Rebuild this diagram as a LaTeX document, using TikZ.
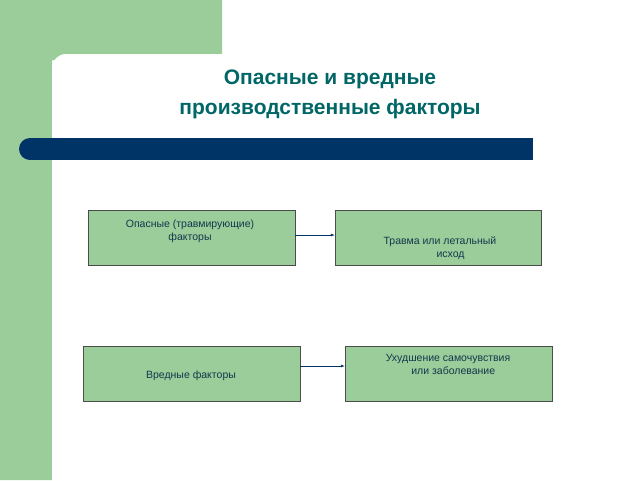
\documentclass[tikz,border=0pt]{standalone}
\usepackage{fontspec}
\setmainfont{Liberation Sans}
\usetikzlibrary{arrows.meta}
\definecolor{bggreen}{RGB}{155,205,155}
\definecolor{boxgreen}{RGB}{155,205,155}
\definecolor{titlecol}{RGB}{0,102,102}
\definecolor{barblue}{RGB}{0,51,102}
\definecolor{txtcol}{RGB}{20,55,75}
\tikzset{
  factorbox/.style={draw=black!70, line width=0.5pt, fill=boxgreen, minimum height=55pt, inner sep=0pt},
  boxtext/.style={text=txtcol, font=\fontsize{10.5pt}{13pt}\selectfont, align=center, inner sep=0pt},
  flow/.style={draw=barblue, line width=0.5pt, -{Latex[length=4pt,width=3pt]}}
}
\begin{document}
\begin{tikzpicture}[x=1pt,y=-1pt]
\useasboundingbox (0,0) rectangle (640,480);
\fill[white] (0,0) rectangle (640,480);
\fill[bggreen] (0,0) rectangle (222,60) (0,0) rectangle (52,480);
\fill[white, rounded corners=14pt] (52,54) rectangle (700,520);
\fill[barblue] (30,138) rectangle (533,160);
\fill[barblue] (30,149) circle (11);
\node[text=titlecol, font=\bfseries\fontsize{21pt}{30pt}\selectfont, align=center] (title) at (330,94) {Опасные и вредные\\производственные факторы};
\node[factorbox, minimum width=207pt] (b1) at (191.5,237.5) {};
\node[factorbox, minimum width=206pt] (b2) at (438,237.5) {};
\node[factorbox, minimum width=217pt] (b3) at (191.5,373.5) {};
\node[factorbox, minimum width=207pt] (b4) at (448.5,373.5) {};
\node[boxtext] (t1) at (190,231) {Опасные (травмирующие)\\\hspace*{0pt}факторы};
\node[boxtext] (t2) at (440,248) {Травма или летальный\\\hspace*{2em}исход};
\node[boxtext] (t3) at (191,376) {Вредные факторы};
\node[boxtext] (t4) at (448,364) {Ухудшение самочувствия\\\hspace*{1em}или заболевание};
\draw[flow] (b1.east |- 0,235) -- (b2.west |- 0,235);
\draw[flow] (b3.east |- 0,366) -- (b4.west |- 0,366);
\end{tikzpicture}
\end{document}
